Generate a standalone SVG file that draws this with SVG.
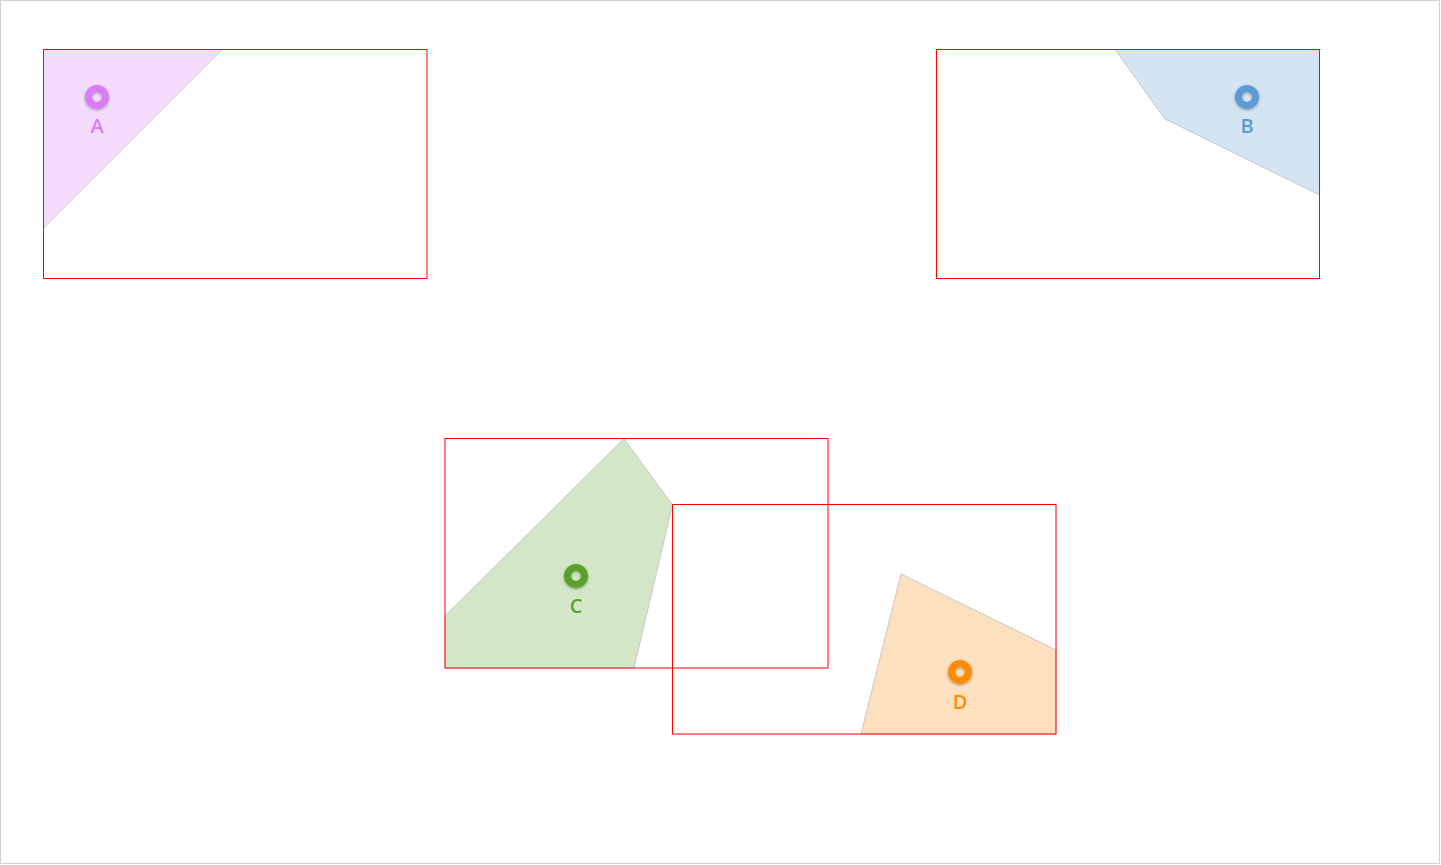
<svg xmlns="http://www.w3.org/2000/svg" width="1441" height="865" viewBox="0 0 1441 865">
<defs>
<filter id="glow" x="-50%" y="-50%" width="200%" height="200%">
<feGaussianBlur in="SourceAlpha" stdDeviation="1.5"/>
<feOffset dy="1"/>
<feComponentTransfer><feFuncA type="linear" slope="0.35"/></feComponentTransfer>
<feMerge><feMergeNode/><feMergeNode in="SourceGraphic"/></feMerge>
</filter>
<style>
.cell{stroke:#c8c8c8;stroke-width:1}
.box{fill:none;stroke:#ff0000;stroke-width:1}
.ring{fill:none;stroke-width:7;filter:url(#glow)}
.lbl{font-family:"Open Sans","Noto Sans","Liberation Sans",sans-serif;font-size:20px;font-weight:600;text-anchor:middle}
</style>
</defs>
<rect x="0" y="0" width="1441" height="865" fill="#ffffff"/>
<rect x="0.5" y="0.5" width="1439" height="863" fill="none" stroke="#d0d0d0" stroke-width="1"/>
<g id="node-A">
<polygon class="cell" points="43.5,49.5 222,49.5 43.5,228" fill="#f5dcfd"/>
<rect class="box" x="43.5" y="49.5" width="383.5" height="229"/>
<circle class="ring" cx="97" cy="97" r="8.5" stroke="#da7cf7"/>
<text class="lbl" x="97" y="133" fill="#da7cf7">A</text>
</g>
<g id="node-B">
<polygon class="cell" points="1115,49.5 1319.5,49.5 1319.5,195 1165,119" fill="#d4e4f3"/>
<rect class="box" x="936.5" y="49.5" width="383" height="229"/>
<circle class="ring" cx="1247" cy="97" r="8.5" stroke="#5b9bd5"/>
<text class="lbl" x="1247" y="133" fill="#5b9bd5">B</text>
</g>
<g id="node-C">
<polygon class="cell" points="624,438.5 672.5,505 634,668 445,668 445,616" fill="#d4e6c8"/>
<rect class="box" x="445" y="438.5" width="383" height="229.5"/>
<circle class="ring" cx="576" cy="576" r="8.5" stroke="#58a22c"/>
<text class="lbl" x="576" y="613" fill="#58a22c">C</text>
</g>
<g id="node-D">
<polygon class="cell" points="901,574 1056,650 1056,734 861,734" fill="#fde0bd"/>
<rect class="box" x="672.5" y="504.5" width="383.5" height="229.5"/>
<circle class="ring" cx="960" cy="672" r="8.5" stroke="#ff8c00"/>
<text class="lbl" x="960" y="709" fill="#ff8c00">D</text>
</g>
<g id="connectors"></g>
</svg>
